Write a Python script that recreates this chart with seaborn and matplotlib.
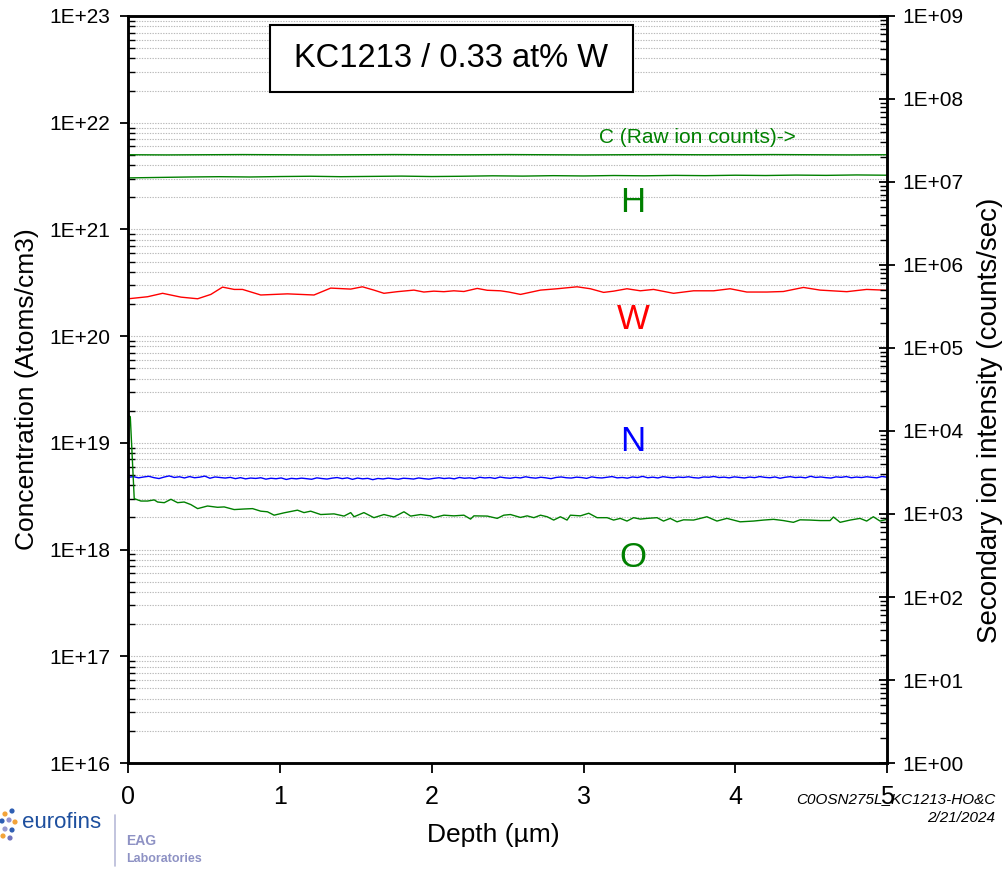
import numpy as np
import pandas as pd
import matplotlib
matplotlib.use("Agg")
import matplotlib.pyplot as plt
import seaborn as sns
from matplotlib.ticker import LogLocator, FuncFormatter, NullFormatter
from matplotlib.patches import Rectangle

sns.set_style("ticks")
plt.rcParams['font.family'] = ['Liberation Sans', 'DejaVu Sans']
plt.rcParams.update({"text.color": "black", "axes.labelcolor": "black",
                     "xtick.color": "black", "ytick.color": "black"})

# ---------------- depth profile data ----------------
# Hydrogen (atoms/cm3), evenly spaced over 0-5 um
H_conc = [3.04e21, 3.07e21, 3.10e21, 3.12e21, 3.10e21, 3.13e21, 3.15e21, 3.12e21,
          3.14e21, 3.16e21, 3.13e21, 3.15e21, 3.18e21, 3.16e21, 3.19e21, 3.17e21,
          3.20e21, 3.18e21, 3.21e21, 3.19e21, 3.22e21, 3.20e21, 3.23e21, 3.21e21,
          3.24e21, 3.22e21]

# Carbon raw ion counts (counts/sec), evenly spaced over 0-5 um
C_counts = [2.13e7, 2.12e7, 2.13e7, 2.14e7, 2.13e7, 2.12e7, 2.13e7, 2.14e7, 2.13e7,
            2.13e7, 2.14e7, 2.13e7, 2.12e7, 2.13e7, 2.14e7, 2.13e7, 2.13e7, 2.14e7,
            2.13e7, 2.12e7, 2.13e7]

# Tungsten (atoms/cm3)
W_depth = [0.0, 0.126, 0.225, 0.346, 0.456, 0.543, 0.620, 0.697, 0.752, 0.872,
           0.960, 1.048, 1.135, 1.223, 1.333, 1.465, 1.542, 1.618, 1.684, 1.772,
           1.882, 1.947, 2.013, 2.079, 2.145, 2.211, 2.299, 2.365, 2.452, 2.507,
           2.584, 2.716, 2.826, 2.957, 3.045, 3.132, 3.198, 3.286, 3.374, 3.461,
           3.593, 3.725, 3.857, 3.966, 4.076, 4.208, 4.317, 4.449, 4.559, 4.735,
           4.866, 5.0]
W_conc = [2.24e20, 2.34e20, 2.52e20, 2.32e20, 2.24e20, 2.46e20, 2.88e20, 2.74e20,
          2.74e20, 2.43e20, 2.46e20, 2.49e20, 2.46e20, 2.43e20, 2.82e20, 2.76e20,
          2.90e20, 2.70e20, 2.52e20, 2.61e20, 2.70e20, 2.59e20, 2.64e20, 2.61e20,
          2.66e20, 2.62e20, 2.80e20, 2.69e20, 2.66e20, 2.59e20, 2.46e20, 2.70e20,
          2.78e20, 2.90e20, 2.78e20, 2.57e20, 2.64e20, 2.78e20, 2.66e20, 2.74e20,
          2.52e20, 2.66e20, 2.66e20, 2.78e20, 2.59e20, 2.59e20, 2.62e20, 2.86e20,
          2.70e20, 2.61e20, 2.74e20, 2.69e20]

# Nitrogen (units of 1e18 atoms/cm3), evenly spaced over 0-5 um
N_conc_e18 = [
    4.76, 4.82, 4.70, 4.79, 4.86, 4.72, 4.63, 4.78, 4.90, 4.74,
    4.81, 4.69, 4.83, 4.71, 4.77, 4.88, 4.66, 4.79, 4.73, 4.68,
    4.75, 4.62, 4.72, 4.60, 4.68, 4.64, 4.71, 4.57, 4.66, 4.61,
    4.69, 4.54, 4.65, 4.60, 4.67, 4.62, 4.56, 4.70, 4.63, 4.58,
    4.67, 4.73, 4.62, 4.70, 4.55, 4.68, 4.60, 4.65, 4.52, 4.64,
    4.59, 4.67, 4.61, 4.56, 4.66, 4.63, 4.58, 4.69, 4.62, 4.57,
    4.65, 4.71, 4.63, 4.68, 4.60, 4.74, 4.66, 4.70, 4.62, 4.76,
    4.69, 4.73, 4.64, 4.78, 4.70, 4.66, 4.75, 4.69, 4.81, 4.72,
    4.67, 4.76, 4.70, 4.62, 4.74, 4.79, 4.71, 4.68, 4.77, 4.73,
    4.65, 4.80, 4.72, 4.69, 4.76, 4.83, 4.70, 4.74, 4.67, 4.79,
    4.73, 4.85, 4.71, 4.77, 4.69, 4.82, 4.75, 4.70, 4.78, 4.74,
    4.81, 4.72, 4.68, 4.79, 4.76, 4.84, 4.73, 4.77, 4.70, 4.80,
    4.74, 4.69, 4.78, 4.72, 4.83, 4.75, 4.71, 4.79, 4.66, 4.76,
    4.82, 4.73, 4.77, 4.70, 4.86, 4.74, 4.79, 4.72, 4.68, 4.80,
    4.75, 4.83, 4.71, 4.78, 4.73, 4.81, 4.76, 4.70, 4.84, 4.77]

# Oxygen (units of 1e18 atoms/cm3)
O_depth = [0.0, 0.012, 0.038, 0.082, 0.126, 0.170, 0.192, 0.236, 0.280, 0.324,
           0.367, 0.411, 0.456, 0.521, 0.587, 0.631, 0.697, 0.762, 0.818, 0.872,
           0.916, 0.960, 1.026, 1.114, 1.157, 1.201, 1.267, 1.355, 1.421, 1.465,
           1.487, 1.552, 1.618, 1.684, 1.750, 1.816, 1.860, 1.926, 1.991, 2.013,
           2.079, 2.145, 2.211, 2.255, 2.277, 2.365, 2.431, 2.474, 2.518, 2.584,
           2.628, 2.672, 2.716, 2.760, 2.803, 2.847, 2.891, 2.913, 2.979, 3.034,
           3.089, 3.155, 3.198, 3.242, 3.286, 3.330, 3.374, 3.418, 3.484, 3.527,
           3.571, 3.616, 3.659, 3.725, 3.813, 3.879, 3.945, 4.032, 4.120, 4.186,
           4.252, 4.317, 4.383, 4.427, 4.493, 4.559, 4.625, 4.647, 4.691, 4.757,
           4.822, 4.866, 4.910, 4.954, 5.0]
O_conc_e18 = [18.0, 17.6, 3.00, 2.85, 2.85, 2.92, 2.79, 2.75, 2.96, 2.75,
              2.79, 2.64, 2.42, 2.56, 2.49, 2.51, 2.37, 2.40, 2.42, 2.29,
              2.26, 2.10, 2.21, 2.34, 2.22, 2.29, 2.13, 2.16, 2.06, 2.22,
              2.03, 2.22, 1.99, 2.13, 2.02, 2.26, 2.06, 2.13, 2.07, 1.99,
              2.10, 2.07, 2.10, 1.93, 2.07, 2.06, 1.96, 2.10, 2.13, 2.00,
              2.07, 1.99, 2.10, 2.03, 1.89, 2.03, 1.89, 2.10, 2.07, 2.19,
              1.99, 1.99, 1.89, 1.96, 1.85, 1.99, 1.93, 1.96, 1.99, 1.85,
              1.96, 1.82, 1.90, 1.89, 2.03, 1.85, 1.96, 1.82, 1.85, 1.89,
              1.92, 1.87, 1.80, 1.90, 1.89, 1.87, 1.87, 2.02, 1.80, 1.89,
              1.96, 1.85, 2.03, 1.85, 1.92]

x_ticks = [0, 1, 2, 3, 4, 5]
title_text = "KC1213 / 0.33 at% W"
green, red, blue = "#008000", "#ff0000", "#0000ff"

# ---------------- tables for seaborn ----------------
df_H = pd.DataFrame({"depth": np.linspace(0, 5, len(H_conc)), "value": H_conc})
df_C = pd.DataFrame({"depth": np.linspace(0, 5, len(C_counts)), "value": C_counts})
df_W = pd.DataFrame({"depth": W_depth, "value": W_conc})
df_N = pd.DataFrame({"depth": np.linspace(0, 5, len(N_conc_e18)),
                     "value": np.array(N_conc_e18) * 1e18})
df_O = pd.DataFrame({"depth": O_depth, "value": np.array(O_conc_e18) * 1e18})

# ---------------- figure ----------------
fig = plt.figure(figsize=(10.06, 8.74), dpi=100)
ax = fig.add_axes([0.1277, 0.1270, 0.7540, 0.8547])
ax2 = ax.twinx()

line_kw = dict(estimator=None, sort=False, linewidth=1.0, legend=False)
sns.lineplot(data=df_H, x="depth", y="value", ax=ax, color=green, **line_kw)
sns.lineplot(data=df_W, x="depth", y="value", ax=ax, color=red, **line_kw)
sns.lineplot(data=df_N, x="depth", y="value", ax=ax, color=blue, **line_kw)
sns.lineplot(data=df_O, x="depth", y="value", ax=ax, color=green, **line_kw)
sns.lineplot(data=df_C, x="depth", y="value", ax=ax2, color=green, **line_kw)

def sci_label(v, pos):
    return "1E+%02d" % int(round(np.log10(v)))

for a, lo, hi in ((ax, 1e16, 1e23), (ax2, 1e0, 1e9)):
    a.set_yscale("log")
    a.set_ylim(lo, hi)
    a.yaxis.set_major_locator(LogLocator(base=10, numticks=30))
    a.yaxis.set_minor_locator(LogLocator(base=10, subs=np.arange(2, 10), numticks=30))
    a.yaxis.set_major_formatter(FuncFormatter(sci_label))
    a.yaxis.set_minor_formatter(NullFormatter())
    a.set_xlabel("")
    a.set_ylabel("")
    for s in a.spines.values():
        s.set_linewidth(1.8)
        s.set_color("black")

ax.set_xlim(0, 5)
ax.set_xticks(x_ticks)
ax.set_xticklabels([str(t) for t in x_ticks])

ax.yaxis.grid(True, which="both", linestyle=(0, (1.2, 1.2)), color="#b9b9b9", linewidth=0.8)
ax.set_axisbelow(True)

ax.tick_params(axis="y", which="major", direction="out", length=6, width=1.3,
               labelsize=15, pad=7)
ax.tick_params(axis="y", which="minor", direction="in", length=5, width=1.0)
ax.tick_params(axis="x", which="major", direction="out", length=7, width=1.3,
               labelsize=18, pad=9)
ax2.tick_params(axis="y", which="major", direction="inout", length=12, width=1.3,
                labelsize=15, pad=5)
ax2.tick_params(axis="y", which="minor", direction="in", length=5, width=1.0)

# axis titles
fig.text(27 / 1006, 1 - 389 / 874, "Concentration (Atoms/cm3)", rotation=90,
         ha="center", va="center", fontsize=19)
fig.text(990 / 1006, 1 - 420 / 874, "Secondary ion intensity (counts/sec)", rotation=90,
         ha="center", va="center", fontsize=20)
ax.set_xlabel("Depth (\u00b5m)", fontsize=19)
ax.xaxis.set_label_coords(0.4806, -0.0964)
ax.xaxis.label.set_verticalalignment("center")

# title box
ax.add_patch(Rectangle((0.1866, 0.8983), 0.4785, 0.0897, transform=ax.transAxes,
                       facecolor="white", edgecolor="black", linewidth=1.5, zorder=5))
ax.text(0.4258, 0.9431, title_text, transform=ax.transAxes, ha="center",
        va="center", fontsize=23.5, zorder=6)

# species labels
ax.text(3.75, 7.2e21, "C (Raw ion counts)->", color=green, fontsize=15,
        ha="center", va="center")
ax.text(3.326, 1.77e21, "H", color=green, fontsize=25, ha="center", va="center")
ax.text(3.326, 1.42e20, "W", color=red, fontsize=25, ha="center", va="center")
ax.text(3.326, 1.04e19, "N", color=blue, fontsize=25, ha="center", va="center")
ax.text(3.326, 8.5e17, "O", color=green, fontsize=25, ha="center", va="center")

# run identifier
fig.text(995 / 1006, 1 - 799 / 874, "C0OSN275L_KC1213-HO&C", ha="right", va="center",
         fontsize=11, style="italic")
fig.text(995 / 1006, 1 - 818 / 874, "2/21/2024", ha="right", va="center",
         fontsize=11, style="italic")

# lab logo
logo = fig.add_axes([0, 0, 1, 1], zorder=-1)
logo.set_xlim(0, 1006)
logo.set_ylim(874, 0)
logo.axis("off")
dots_x = [5, 12, 2, 9, 15, 5, 12, 3, 10]
dots_y = [814, 811, 821, 820, 822, 829, 830, 836, 838]
dots_c = ["#f2a33a", "#2f5fb3", "#2f5fb3", "#9090cf", "#f2a33a",
          "#9a9ad0", "#2f5fb3", "#f2a33a", "#6f72bd"]
logo.scatter(dots_x, dots_y, s=14, c=dots_c, linewidths=0)
logo.plot([115, 115], [815, 866], color="#b8bad8", linewidth=1.2)
logo.text(22, 822, "eurofins", color="#1d4f9e", fontsize=16, va="center", ha="left")
logo.text(126, 841, "EAG", color="#8e92c4", fontsize=10, fontweight="bold",
          va="center", ha="left")
logo.text(126, 859, "Laboratories", color="#8e92c4", fontsize=9, fontweight="bold",
          va="center", ha="left")

fig.savefig("out.png", dpi=100)
